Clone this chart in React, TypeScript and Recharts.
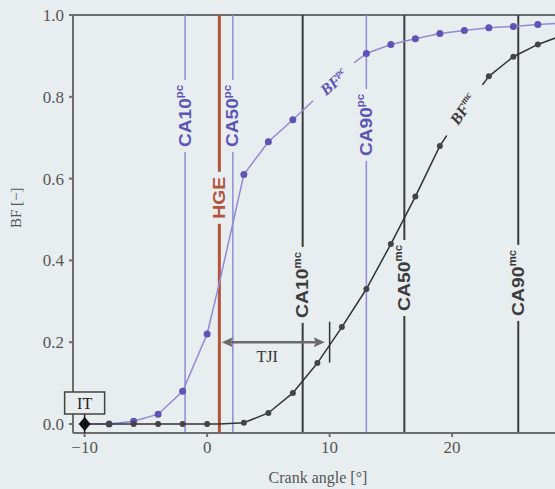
import React from 'react';
import {
  ComposedChart, Line, XAxis, YAxis, ReferenceLine, ReferenceDot,
} from 'recharts';

// ---- data ----
const angles = [-10, -8, -6, -4, -2, 0, 1, 3, 5, 7, 9, 11, 13, 15, 17, 19, 21, 23, 25, 27, 29];
const bfPc = [0, 0, 0.007, 0.024, 0.08, 0.22, 0.345, 0.61, 0.69, 0.744, 0.8, 0.86, 0.906, 0.928, 0.942, 0.955, 0.962, 0.969, 0.972, 0.977, 0.98];
const bfMc = [0, 0, 0, 0, 0, 0, 0, 0.003, 0.027, 0.076, 0.149, 0.237, 0.33, 0.44, 0.556, 0.68, 0.77, 0.85, 0.898, 0.928, 0.95];
const xTicks = [-10, 0, 10, 20];
const yTicks = [0, 0.2, 0.4, 0.6, 0.8, 1.0];

// vertical markers
const markerAngles = [-1.8, 1.0, 2.1, 13.0, 7.8, 16.1, 25.4];
const markerNames = ['CA10', 'HGE', 'CA50', 'CA90', 'CA10', 'CA50', 'CA90'];
const markerSups = ['pc', '', 'pc', 'pc', 'mc', 'mc', 'mc'];
const markerKinds = ['pc', 'hge', 'pc', 'pc', 'mc', 'mc', 'mc'];
const markerLabelLevels = [0.753, 0.553, 0.753, 0.731, 0.34, 0.357, 0.345];

const itAngle = -10;
const tjiStart = 1.2;
const tjiEnd = 9.6;
const tjiLevel = 0.2;
const tjiTick = 10;

const data = angles.map((a, i) => ({ x: a, pc: bfPc[i], mc: bfMc[i] }));

const BG = '#e8edf0';
const BLUE = '#5b55b6';
const BLUE_LINE = '#8f8bd6';
const RED = '#b2553b';
const DARK = '#3c3c3c';
const AXIS = '#6e6e6e';
const SERIF = '"Liberation Serif", "DejaVu Serif", serif';
const NARROW = '"Liberation Sans Narrow", "Liberation Sans", sans-serif';

const kindColor: Record<string, string> = { pc: BLUE, hge: RED, mc: DARK };
const kindLen: Record<string, number> = { pc: 62, hge: 42, mc: 66 };

const VLabel = (props: any) => {
  const { cx, cy, name, sup, kind } = props;
  if (cx == null || cy == null) return null;
  const len = name === 'HGE' ? kindLen.hge : kindLen[kind];
  const color = kindColor[kind];
  return (
    <g>
      <rect x={cx - 10} y={cy - len / 2 - 5} width={20} height={len + 10} fill={BG} />
      <text
        x={cx}
        y={cy}
        transform={`rotate(-90 ${cx} ${cy})`}
        textAnchor="middle"
        dominantBaseline="central"
        fill={color}
        fontFamily={NARROW}
        fontWeight="bold"
        fontSize={17}
        textLength={len}
        lengthAdjust="spacingAndGlyphs"
      >
        {name}
        {sup ? <tspan dy={-6} fontSize={10}>{sup}</tspan> : null}
      </text>
    </g>
  );
};

const CurveLabel = (props: any) => {
  const { cx, cy, sup, color, angle, w } = props;
  if (cx == null || cy == null) return null;
  return (
    <g transform={`rotate(${angle} ${cx} ${cy})`}>
      <rect x={cx - w / 2} y={cy - 10} width={w} height={20} fill={BG} />
      <text x={cx} y={cy} textAnchor="middle" dominantBaseline="central" fill={color}
        fontFamily={SERIF} fontStyle="italic" fontWeight="bold" fontSize={16}>
        BF<tspan dy={-5} fontSize={10}>{sup}</tspan>
      </text>
    </g>
  );
};

const ITMarker = (props: any) => {
  const { cx, cy } = props;
  if (cx == null || cy == null) return null;
  return (
    <g>
      <line x1={cx} y1={cy - 10} x2={cx} y2={cy + 9} stroke="#222" strokeWidth={1.5} />
      <rect x={cx - 20} y={cy - 32} width={40} height={22} fill={BG} stroke="#444" strokeWidth={1.5} />
      <text x={cx} y={cy - 21} textAnchor="middle" dominantBaseline="central" fill="#222"
        fontFamily={SERIF} fontSize={16}>IT</text>
      <path d={`M ${cx} ${cy - 7} L ${cx + 6} ${cy} L ${cx} ${cy + 7} L ${cx - 6} ${cy} Z`} fill="#111" />
    </g>
  );
};

const TJIArrow = (props: any) => {
  const { x1, y1, x2, y2 } = props;
  if (x1 == null) return null;
  const h = 9;
  return (
    <g>
      <line x1={x1 + h} y1={y1} x2={x2 - h} y2={y2} stroke="#6a6a6a" strokeWidth={2.5} />
      <path d={`M ${x1} ${y1} L ${x1 + h + 2} ${y1 - 5} L ${x1 + h} ${y1} L ${x1 + h + 2} ${y1 + 5} Z`} fill="#6a6a6a" />
      <path d={`M ${x2} ${y2} L ${x2 - h - 2} ${y2 - 5} L ${x2 - h} ${y2} L ${x2 - h - 2} ${y2 + 5} Z`} fill="#6a6a6a" />
      <text x={(x1 + x2) / 2 - 6} y={y1 + 20} textAnchor="middle" fill="#333" fontFamily={SERIF} fontSize={16}>TJI</text>
    </g>
  );
};

const makeDot = (color: string, r: number) => (p: any) => {
  const { cx, cy, payload, index } = p;
  if (payload && payload.x === 1) return <g key={`d${index}`} />;
  return <circle key={`d${index}`} cx={cx} cy={cy} r={r} fill={color} stroke="none" />;
};

const fmtX = (v: number) => (v < 0 ? `\u2212${Math.abs(v)}` : String(v));

const tickStyle = { fill: '#555', fontFamily: SERIF, fontSize: 17 };

export default function App() {
  return (
    <div style={{ position: 'absolute', left: 0, top: 0, width: 555, height: 489, background: BG, overflow: 'hidden' }}>
      <ComposedChart width={555} height={489} data={data}
        margin={{ top: 15, right: 0, bottom: 26, left: 13 }}>
        <XAxis type="number" dataKey="x" domain={[-10.95, 28.4]} allowDataOverflow ticks={xTicks}
          tickFormatter={fmtX} height={30} stroke={AXIS} strokeWidth={2} tickSize={4} tickMargin={4}
          tick={tickStyle}
          label={{ value: 'Crank angle [°]', position: 'insideBottom', offset: -20, fill: '#555', fontFamily: SERIF, fontSize: 16, dx: 4 }} />
        <YAxis type="number" domain={[-0.022, 1.0]} allowDataOverflow ticks={yTicks}
          tickFormatter={(v: number) => v.toFixed(1)} width={60} stroke={AXIS} strokeWidth={2}
          tickSize={4} tickMargin={5}
          tick={tickStyle}
          label={{ value: 'BF [\u2212]', angle: -90, position: 'insideLeft', offset: 0, fill: '#555', fontFamily: SERIF, fontSize: 15, dx: 3, dy: 4 }} />
        <ReferenceLine y={1.0} stroke={AXIS} strokeWidth={2} />
        {markerAngles.map((a, i) => (
          <ReferenceLine key={`m${i}`} x={a}
            stroke={markerKinds[i] === 'pc' ? BLUE_LINE : markerKinds[i] === 'hge' ? RED : DARK}
            strokeWidth={markerKinds[i] === 'pc' ? 1.5 : markerKinds[i] === 'hge' ? 3 : 2} />
        ))}
        <Line type="linear" dataKey="pc" stroke={BLUE_LINE} strokeWidth={1.5}
          dot={makeDot(BLUE, 3.5)} activeDot={false} isAnimationActive={false} />
        <Line type="linear" dataKey="mc" stroke="#333" strokeWidth={1.5}
          dot={makeDot('#444', 3)} activeDot={false} isAnimationActive={false} />
        {markerAngles.map((a, i) => (
          <ReferenceDot key={`l${i}`} x={a} y={markerLabelLevels[i]} r={0}
            shape={(p: any) => <VLabel {...p} name={markerNames[i]} sup={markerSups[i]} kind={markerKinds[i]} />} />
        ))}
        <ReferenceLine segment={[{ x: tjiStart, y: tjiLevel }, { x: tjiEnd, y: tjiLevel }]}
          shape={(p: any) => <TJIArrow {...p} />} />
        <ReferenceLine segment={[{ x: tjiTick, y: 0.15 }, { x: tjiTick, y: 0.25 }]} stroke="#333" strokeWidth={1.5} />
        <ReferenceDot x={10.35} y={0.836} r={0}
          shape={(p: any) => <CurveLabel {...p} sup="pc" color={BLUE} angle={-41} w={56} />} />
        <ReferenceDot x={20.9} y={0.77} r={0}
          shape={(p: any) => <CurveLabel {...p} sup="mc" color={DARK} angle={-55} w={62} />} />
        <ReferenceDot x={itAngle} y={0} r={0} shape={(p: any) => <ITMarker {...p} />} />
      </ComposedChart>
    </div>
  );
}
